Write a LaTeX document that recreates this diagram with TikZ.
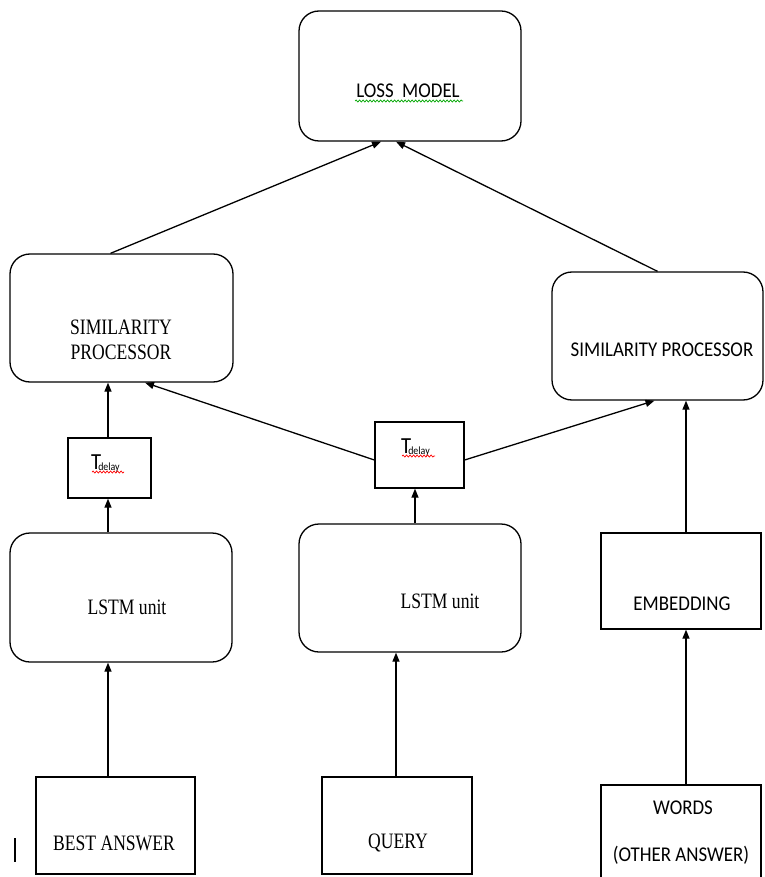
\documentclass[tikz,border=0pt]{standalone}
\usepackage{fontspec}
\usetikzlibrary{arrows.meta,decorations.pathmorphing}
\newfontfamily\tnrf[FakeStretch=0.8]{Liberation Serif}
\newfontfamily\calf[FakeStretch=0.9]{Carlito}
\newcommand{\tdelaytext}{{\calf\fontsize{23}{23}\selectfont T}\kern-3pt\raisebox{-1.5pt}{\calf\fontsize{11}{11}\selectfont delay}}
\begin{document}
\begin{tikzpicture}[x=1pt,y=-1pt,
  rbox/.style={draw, line width=1.3pt, rounded corners=20pt, inner sep=0pt},
  sbox/.style={draw, line width=1.3pt, inner sep=0pt},
  serif/.style={font=\tnrf\fontsize{22}{25}\selectfont, align=center, inner sep=0pt},
  sans/.style={font=\calf\fontsize{21}{25}\selectfont, align=center, inner sep=0pt},
  arr/.style={line width=1.3pt, -{Triangle[length=9pt,width=7pt]}},
  squig/.style={decorate, decoration={snake, amplitude=1pt, segment length=3.5pt}, line width=0.7pt}]
\useasboundingbox (0,0) rectangle (764,877);
% boxes
\node[rbox, minimum width=222pt, minimum height=130pt] (loss) at (410,76) {};
\node[rbox, minimum width=223pt, minimum height=128pt] (spl) at (121.5,318) {};
\node[rbox, minimum width=211pt, minimum height=128pt] (spr) at (657.5,336) {};
\node[sbox, minimum width=83pt, minimum height=60pt] (tdl) at (109.5,468) {};
\node[sbox, minimum width=89pt, minimum height=66pt] (tdm) at (419.5,455) {};
\node[rbox, minimum width=222pt, minimum height=129pt] (lstml) at (121,597.5) {};
\node[rbox, minimum width=222pt, minimum height=128pt] (lstmm) at (410,588) {};
\node[sbox, minimum width=160pt, minimum height=96pt] (emb) at (681,581) {};
\node[sbox, minimum width=159pt, minimum height=97pt] (best) at (115.5,825.5) {};
\node[sbox, minimum width=150pt, minimum height=97pt] (query) at (397,825.5) {};
\node[sbox, minimum width=160pt, minimum height=100pt] (words) at (681,835) {};
% texts
\node[sans] (tloss) at (408,91) {LOSS\ \ MODEL};
\draw[squig, green!65!black] (355,101) -- (463,101);
\node[inner sep=0pt, anchor=base west] (ttdl) at (91,469) {\tdelaytext};
\draw[squig, red] (92,472) -- (124,472);
\node[inner sep=0pt, anchor=base west] (ttdm) at (401,453) {\tdelaytext};
\draw[squig, red] (402,456) -- (435,456);
\node[serif] (tspl) at (121,339.5) {SIMILARITY\\PROCESSOR};
\node[sans] (tspr) at (662,350) {SIMILARITY PROCESSOR};
\node[serif] (tlstml) at (127,607) {LSTM unit};
\node[serif] (tlstmm) at (440,601) {LSTM unit};
\node[sans] (temb) at (682,604) {EMBEDDING};
\node[serif] (tbest) at (114,843) {BEST ANSWER};
\node[serif] (tquery) at (398,843) {QUERY};
\node[sans] (twords) at (683,808) {WORDS};
\node[sans] (tother) at (681,855) {(OTHER ANSWER)};
% cursor mark
\draw[line width=2.2pt] (15,838) -- (15,862);
% connectors
\draw[arr] ([xshift=-11pt]spl.north) -- ([xshift=-29pt]loss.south);
\draw[arr] (spr.north) -- ([xshift=-14pt]loss.south);
\draw[arr] ([xshift=-1.5pt]tdl.north) -- ([xshift=-1.5pt]tdl.north |- spl.south);
\draw[arr] ([xshift=-1.5pt]tdl.south |- lstml.north) -- ([xshift=-1.5pt]tdl.south);
\draw[arr] ([xshift=-1.5pt]tdl.south |- best.north) -- ([xshift=-1.5pt]tdl.south |- lstml.south);
\draw[arr] ([xshift=-1pt]query.north) -- ([xshift=-1pt]query.north |- lstmm.south);
\draw[arr] ([xshift=-4.5pt]tdm.south |- lstmm.north) -- ([xshift=-4.5pt]tdm.south);
\draw[arr] ([yshift=-5pt]tdm.west) -- (spl.-70);
\draw[arr] ([yshift=-5pt]tdm.east) -- ([xshift=-3pt]spr.south);
\draw[arr] ([xshift=5pt]emb.north) -- ([xshift=5pt]emb.north |- spr.south);
\draw[arr] ([xshift=5pt]words.north) -- ([xshift=5pt]emb.south);
\end{tikzpicture}
\end{document}
